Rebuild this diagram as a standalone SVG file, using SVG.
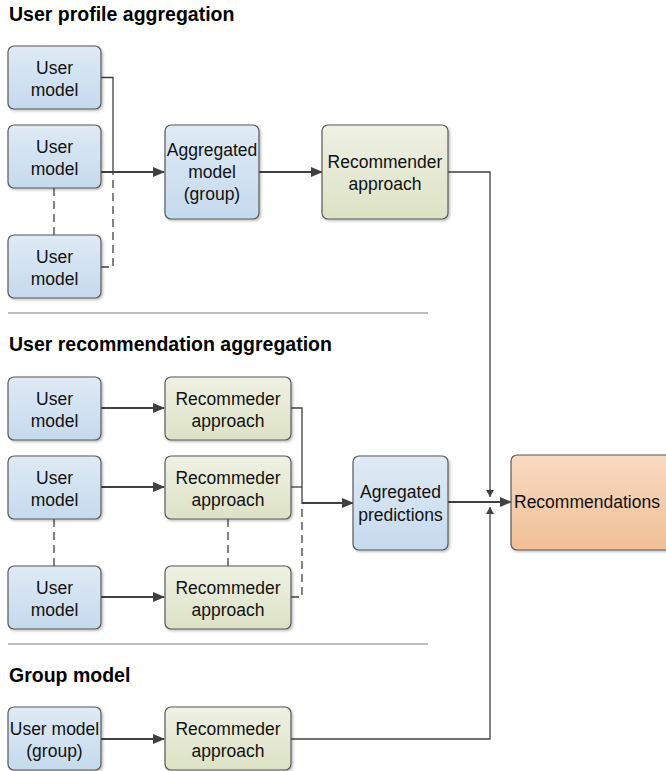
<svg xmlns="http://www.w3.org/2000/svg" width="666" height="771" viewBox="0 0 666 771">
<defs>
<linearGradient id="gb" x1="0" y1="0" x2="0" y2="1"><stop offset="0" stop-color="#dfeaf5"/><stop offset="1" stop-color="#c5daed"/></linearGradient>
<linearGradient id="gg" x1="0" y1="0" x2="0" y2="1"><stop offset="0" stop-color="#eff1e4"/><stop offset="1" stop-color="#dce2c5"/></linearGradient>
<linearGradient id="go" x1="0" y1="0" x2="0" y2="1"><stop offset="0" stop-color="#f8d9c1"/><stop offset="1" stop-color="#f1c098"/></linearGradient>
<marker id="ah" markerWidth="12" markerHeight="10" refX="11" refY="5" orient="auto" markerUnits="userSpaceOnUse"><path d="M0,0 L12,5 L0,10 Z" fill="#404040"/></marker>
<marker id="as" markerWidth="7" markerHeight="8" refX="7" refY="4" orient="auto" markerUnits="userSpaceOnUse"><path d="M0,0 L7,4 L0,8 Z" fill="#404040"/></marker>
<filter id="sh" x="-10%" y="-10%" width="130%" height="130%"><feDropShadow dx="1.5" dy="1.5" stdDeviation="1" flood-color="#000" flood-opacity="0.25"/></filter>
</defs>
<style>
.b{fill:url(#gb);stroke:#595959;stroke-width:1.2;filter:url(#sh)}
.g{fill:url(#gg);stroke:#595959;stroke-width:1.2;filter:url(#sh)}
.o{fill:url(#go);stroke:#595959;stroke-width:1.2;filter:url(#sh)}
text{font-family:"Liberation Sans",Arial,sans-serif;font-size:17.5px;fill:#111;text-anchor:middle}
.h{font-weight:bold;font-size:19.5px;text-anchor:start;fill:#000}
.l{fill:none;stroke:#404040;stroke-width:1.3}
.a{fill:none;stroke:#404040;stroke-width:1.8;marker-end:url(#ah)}
.d{fill:none;stroke:#404040;stroke-width:1.3;stroke-dasharray:8,5}
.sep{stroke:#7f7f7f;stroke-width:1}
</style>

<text class="h" x="9" y="21">User profile aggregation</text>
<text class="h" x="9" y="351">User recommendation aggregation</text>
<text class="h" x="9" y="682">Group model</text>
<line class="sep" x1="8" y1="313" x2="428" y2="313"/>
<line class="sep" x1="8" y1="644" x2="428" y2="644"/>

<g id="connectors">
<path class="l" d="M101,77.5 H113 V172"/>
<path class="a" d="M101,172 H164"/>
<path class="d" d="M101,267 H113 V172"/>
<path class="d" d="M54,188 V235"/>
<path class="a" d="M259,172 H322"/>
<path class="l" d="M448,172 H490 V497" marker-end="url(#as)"/>
<path class="l" d="M291,739 H490 V507" marker-end="url(#as)"/>
<path class="a" d="M448,502 H511"/>

<path class="a" d="M101,408 H164"/>
<path class="a" d="M101,487 H164"/>
<path class="a" d="M101,597 H164"/>
<path class="d" d="M54,519 V566"/>
<path class="d" d="M228,519 V566"/>
<path class="l" d="M291,408 H302 V503"/>
<path class="l" d="M291,487 H302"/>
<path class="d" d="M291,597 H302 V503"/>
<path class="a" d="M302,503 H353"/>

<path class="a" d="M101,739 H164"/>
</g>

<g id="um1"><rect class="b" x="8" y="46" width="93" height="63" rx="6"/><text x="54.5" y="73.5">User</text><text x="54.5" y="96">model</text></g>
<g id="um2"><rect class="b" x="8" y="125" width="93" height="63" rx="6"/><text x="54.5" y="152.5">User</text><text x="54.5" y="175">model</text></g>
<g id="um3"><rect class="b" x="8" y="235" width="93" height="63" rx="6"/><text x="54.5" y="262.5">User</text><text x="54.5" y="285">model</text></g>
<g id="agg"><rect class="b" x="165" y="125" width="94" height="94" rx="6"/><text x="212" y="156">Aggregated</text><text x="212" y="178">model</text><text x="212" y="200">(group)</text></g>
<g id="rec"><rect class="g" x="322" y="125" width="126" height="94" rx="6"/><text x="385" y="168">Recommender</text><text x="385" y="190">approach</text></g>

<g id="um4"><rect class="b" x="8" y="377" width="93" height="63" rx="6"/><text x="54.5" y="404.5">User</text><text x="54.5" y="427">model</text></g>
<g id="um5"><rect class="b" x="8" y="456" width="93" height="63" rx="6"/><text x="54.5" y="483.5">User</text><text x="54.5" y="506">model</text></g>
<g id="um6"><rect class="b" x="8" y="566" width="93" height="63" rx="6"/><text x="54.5" y="593.5">User</text><text x="54.5" y="616">model</text></g>
<g id="ra1"><rect class="g" x="165" y="377" width="126" height="63" rx="6"/><text x="228" y="404.5">Recommeder</text><text x="228" y="427">approach</text></g>
<g id="ra2"><rect class="g" x="165" y="456" width="126" height="63" rx="6"/><text x="228" y="483.5">Recommeder</text><text x="228" y="506">approach</text></g>
<g id="ra3"><rect class="g" x="165" y="566" width="126" height="63" rx="6"/><text x="228" y="593.5">Recommeder</text><text x="228" y="616">approach</text></g>
<g id="aggp"><rect class="b" x="353" y="456" width="95" height="94" rx="6"/><text x="400.5" y="498">Agregated</text><text x="400.5" y="521">predictions</text></g>
<g id="recs"><rect class="o" x="511" y="455" width="170" height="95" rx="6"/><text x="514" y="508" style="text-anchor:start">Recommendations</text></g>

<g id="umg"><rect class="b" x="8" y="707" width="93" height="63" rx="6"/><text x="54.5" y="734.5">User model</text><text x="54.5" y="757">(group)</text></g>
<g id="rag"><rect class="g" x="165" y="707" width="126" height="63" rx="6"/><text x="228" y="734.5">Recommeder</text><text x="228" y="757">approach</text></g>
</svg>
